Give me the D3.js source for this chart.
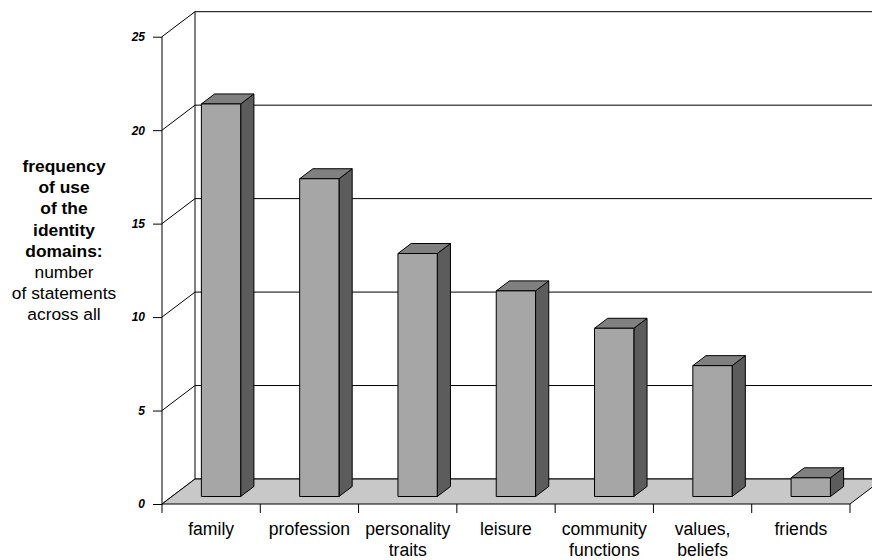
<!DOCTYPE html>
<html>
<head>
<meta charset="utf-8">
<script src="https://cdn.jsdelivr.net/npm/d3@7"></script>
<style>
  html, body { margin: 0; padding: 0; background: #fff; }
  svg { display: block; font-family: "Liberation Sans", Arial, sans-serif; }
</style>
</head>
<body>
<svg id="chart" width="872" height="560"></svg>
<script>
// Identity domains and how often each was named
const categories = [
  ["family"],
  ["profession"],
  ["personality", "traits"],
  ["leisure"],
  ["community", "functions"],
  ["values,", "beliefs"],
  ["friends"]
];
const values = [21, 17, 13, 11, 9, 7, 1];
const yTicks = [0, 5, 10, 15, 20, 25];
const titleLines = [
  { text: "frequency", bold: true },
  { text: "of use", bold: true },
  { text: "of the", bold: true },
  { text: "identity", bold: true },
  { text: "domains:", bold: true },
  { text: "number", bold: false },
  { text: "of statements", bold: false },
  { text: "across all", bold: false }
];

(function () {
  const svg = d3.select("#chart");

  // Front plane of the 3D box, and the depth offset to the back wall
  const plotLeft = 162, plotRight = 850, plotBottom = 504, plotTop = 36.7;
  const depthX = 33, depthY = 25;
  const barZ0 = 0.3, barZ1 = 0.7, barFrac = 0.4;

  const x = d3.scaleBand().domain(d3.range(categories.length)).range([plotLeft, plotRight]).padding(0);
  const y = d3.scaleLinear().domain([0, 25]).range([plotBottom, plotTop]);

  // project a point at depth z (0 = front, 1 = back)
  const P = (px, py, z) => [px + z * depthX, py - z * depthY];
  const pts = arr => arr.map(p => p.join(",")).join(" ");

  const g = svg.append("g");

  // Back wall gridlines
  yTicks.forEach(t => {
    const a = P(plotLeft, y(t), 1), b = P(plotRight, y(t), 1);
    g.append("line")
      .attr("x1", a[0]).attr("y1", a[1]).attr("x2", b[0]).attr("y2", b[1])
      .attr("stroke", "#000").attr("stroke-width", 1);
  });
  // Back wall left edge
  {
    const a = P(plotLeft, y(0), 1), b = P(plotLeft, y(25), 1);
    g.append("line")
      .attr("x1", a[0]).attr("y1", a[1]).attr("x2", b[0]).attr("y2", b[1])
      .attr("stroke", "#000");
  }
  // Side wall diagonals from each tick
  yTicks.forEach(t => {
    const a = P(plotLeft, y(t), 0), b = P(plotLeft, y(t), 1);
    g.append("line")
      .attr("x1", a[0]).attr("y1", a[1]).attr("x2", b[0]).attr("y2", b[1])
      .attr("stroke", "#000");
  });

  // Floor
  g.append("polygon")
    .attr("points", pts([P(plotLeft, y(0), 0), P(plotRight, y(0), 0), P(plotRight, y(0), 1), P(plotLeft, y(0), 1)]))
    .attr("fill", "#c8c8c8").attr("stroke", "#000").attr("stroke-width", 1);

  // Bars as 3D boxes
  values.forEach((v, i) => {
    const bw = x.bandwidth() * barFrac;
    const x0 = x(i) + (x.bandwidth() - bw) / 2, x1 = x0 + bw;
    const y0 = y(0), y1 = y(v);
    const bar = g.append("g");
    // right side face
    bar.append("polygon")
      .attr("points", pts([P(x1, y0, barZ0), P(x1, y0, barZ1), P(x1, y1, barZ1), P(x1, y1, barZ0)]))
      .attr("fill", "#5c5c5c").attr("stroke", "#000").attr("stroke-width", 1).attr("stroke-linejoin", "round");
    // top face
    bar.append("polygon")
      .attr("points", pts([P(x0, y1, barZ0), P(x1, y1, barZ0), P(x1, y1, barZ1), P(x0, y1, barZ1)]))
      .attr("fill", "#808080").attr("stroke", "#000").attr("stroke-width", 1).attr("stroke-linejoin", "round");
    // front face
    bar.append("polygon")
      .attr("points", pts([P(x0, y0, barZ0), P(x1, y0, barZ0), P(x1, y1, barZ0), P(x0, y1, barZ0)]))
      .attr("fill", "#a6a6a6").attr("stroke", "#000").attr("stroke-width", 1);
  });

  // Front value axis
  const yAxis = d3.axisLeft(y).tickValues(yTicks).tickSize(9).tickPadding(8);
  const ya = svg.append("g").attr("transform", `translate(${plotLeft},0)`).call(yAxis);
  ya.select(".domain").attr("stroke", "#000").attr("d", `M0,${y(25)}V${y(0)}`);
  ya.selectAll(".tick line").attr("stroke", "#000");
  ya.selectAll(".tick text")
    .attr("font-family", "'Liberation Sans', Arial, sans-serif")
    .attr("font-size", 12).attr("font-weight", "bold").attr("font-style", "italic").attr("fill", "#000");

  // Category axis ticks at band edges
  const edges = d3.range(categories.length + 1).map(i => i < categories.length ? x(i) : plotRight);
  svg.append("g").selectAll("line").data(edges).join("line")
    .attr("x1", d => d).attr("x2", d => d)
    .attr("y1", plotBottom).attr("y2", plotBottom + 9)
    .attr("stroke", "#000");

  // Category labels
  const cat = svg.append("g").attr("font-size", 17.6).attr("text-anchor", "middle").attr("fill", "#000");
  categories.forEach((lines, i) => {
    const cx = x(i) + x.bandwidth() / 2;
    const t = cat.append("text").attr("x", cx).attr("y", 535);
    lines.forEach((ln, j) => t.append("tspan").attr("x", cx).attr("dy", j ? 21 : 0).text(ln));
  });

  // Value axis title
  const title = svg.append("text").attr("text-anchor", "middle").attr("font-size", 17.4).attr("fill", "#000");
  titleLines.forEach((ln, j) => {
    title.append("tspan")
      .attr("x", 64).attr("y", 172 + j * 21.2)
      .attr("font-weight", ln.bold ? "bold" : "normal")
      .text(ln.text);
  });
})();
</script>
</body>
</html>
